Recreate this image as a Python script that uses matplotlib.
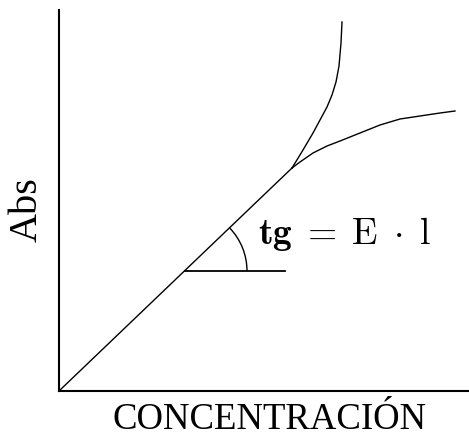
import matplotlib
matplotlib.use("Agg")
import matplotlib.pyplot as plt
from matplotlib.patches import Arc

plt.rcParams["mathtext.fontset"] = "cm"

# Data (arbitrary units)
lin_x = [0, 233]
lin_y = [0, 223]
up_x = [233, 244, 254, 261, 268, 273, 277, 280, 282, 283]
up_y = [223, 241, 258, 271, 284, 296, 309, 325, 348, 369]
low_x = [233, 241, 254, 268, 281, 291, 301, 321, 341, 361, 381, 396]
low_y = [223, 229, 238, 245, 250, 254, 258, 266, 272, 275, 278, 280]
hor_x = [126, 226]
hor_y = [120, 120]
arc_center = (126, 120)
arc_radius = 62
arc_angle = 43.8

W, H = 469, 438
fig = plt.figure(figsize=(W / 100, H / 100), dpi=100)
ax = fig.add_axes([59 / W, (H - 391) / H, (W - 59) / W, (391 - 10) / H])
ax.set_xlim(0, 410)
ax.set_ylim(0, 381)
for s in ["top", "right"]:
    ax.spines[s].set_visible(False)
for s in ["left", "bottom"]:
    ax.spines[s].set_linewidth(1.5)
    ax.spines[s].set_color("black")
ax.set_xticks([])
ax.set_yticks([])

lw = 1.0
ax.plot(lin_x, lin_y, color="black", lw=lw, clip_on=False, solid_joinstyle="round")
ax.plot(up_x, up_y, color="black", lw=lw, clip_on=False, solid_joinstyle="round")
ax.plot(low_x, low_y, color="black", lw=lw, clip_on=False, solid_joinstyle="round")
ax.plot(hor_x, hor_y, color="black", lw=1.3)
ax.add_patch(Arc(arc_center, 2 * arc_radius, 2 * arc_radius, theta1=0, theta2=arc_angle,
                 color="black", lw=1.0))

ax.text(199, 147, r"$\mathbf{tg}\;=\;\mathrm{E}\;\cdot\;\mathrm{l}$", fontsize=27,
        va="baseline", ha="left")

serif = "Liberation Serif"
fig.text(27.5 / W, 1 - 210 / H, "Abs", rotation=90, fontsize=29, family=serif,
         ha="center", va="center")
fig.text(270 / W, 1 / H, "CONCENTRACIÓN", fontsize=26.5, family=serif,
         ha="center", va="bottom")

fig.savefig("out.png", dpi=100)
